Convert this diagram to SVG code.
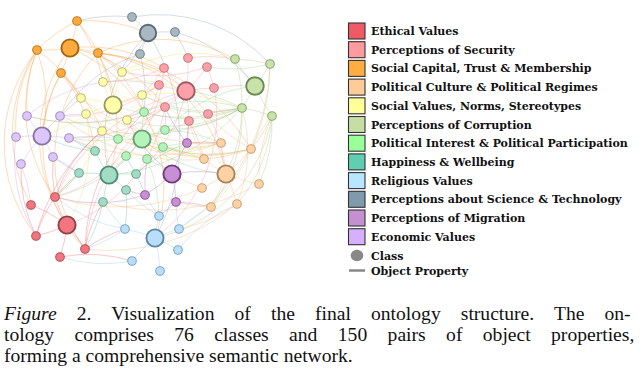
<svg xmlns="http://www.w3.org/2000/svg" width="641" height="389" viewBox="0 0 641 389">
<style>
.ed path{fill:none;stroke-width:1;stroke-opacity:.36}
.ce{stroke:#f0606a}.cs{stroke:#ff8f9a}.co{stroke:#ff9a3a}.cp{stroke:#f8b878}.cv{stroke:#e8e060}.ck{stroke:#a8c888}
.ci{stroke:#80e088}.ch{stroke:#60c0a0}.cr{stroke:#90c8f0}.ct{stroke:#8aa0b0}.cm{stroke:#b070c0}.cn{stroke:#c0a0f0}
.n circle{stroke-width:1.1}
.n .L{stroke-width:1.9}
.E circle{fill:#f27680;stroke:#b4525a}.S circle{fill:#ffa0a8;stroke:#c47a82}.C circle{fill:#ffaa3c;stroke:#c27c22}
.P circle{fill:#ffd2a4;stroke:#c8a27c}.V circle{fill:#ffffaa;stroke:#bcbc7c}.K circle{fill:#c8e2aa;stroke:#8aa870}
.I circle{fill:#b2f4ba;stroke:#82bc8a}.H circle{fill:#a2dcc6;stroke:#6ea690}.R circle{fill:#b8defa;stroke:#7ea6c6}
.T circle{fill:#a8b8c2;stroke:#748690}.M circle{fill:#c88ed6;stroke:#8e5a9a}.N circle{fill:#dcc6fa;stroke:#a690c4}
.E .L{stroke:#904048}.S .L{stroke:#985c64}.K .L{stroke:#6c8a54}.V .L{stroke:#9a9a60}.I .L{stroke:#6a9c72}.H .L{stroke:#4e8a74}
.R .L{stroke:#5e86a6}.T .L{stroke:#5a6a74}.M .L{stroke:#6e3c7a}.N .L{stroke:#8a72a8}.P .L{stroke:#a8825c}.C .L{stroke:#a26410}
.lg rect{stroke:#333;stroke-width:1.1}
.lg text{font-family:"DejaVu Serif",serif;font-weight:bold;font-size:11px;fill:#111}
.cap{font-family:"Liberation Serif","Times New Roman",serif;font-size:19.6px;fill:#111}
</style>
<rect width="641" height="389" fill="#fff"/>
<g id="connectors" class="ed">
<g class="co">
<path d="M77 21A150 150 0 0 1 70 48"/><path d="M77 21A150 150 0 0 1 98 53"/><path d="M37 50A150 150 0 0 1 77 21"/>
<path d="M70 48A150 150 0 0 1 37 50"/><path d="M70 48A150 150 0 0 1 98 53"/><path d="M70 48A150 150 0 0 1 61 73"/>
<path d="M27 116A150 150 0 0 1 37 50"/><path d="M16 137A150 150 0 0 1 37 50"/><path d="M31 205A150 150 0 0 1 37 50"/>
<path d="M36 236A150 150 0 0 1 37 50"/><path d="M37 50A150 150 0 0 1 81 98"/><path d="M98 53A150 150 0 0 1 122 72"/>
<path d="M98 53A150 150 0 0 1 113 105"/><path d="M98 53A150 150 0 0 1 186 91"/><path d="M98 53A150 150 0 0 1 144 112"/>
<path d="M98 53A150 150 0 0 1 109 175"/><path d="M85 249A150 150 0 0 1 98 53"/><path d="M61 73A150 150 0 0 1 81 98"/>
<path d="M42 136A150 150 0 0 1 61 73"/><path d="M70 48A150 150 0 0 1 164 68"/><path d="M77 21A150 150 0 0 1 148 33"/>
<path d="M67 225A150 150 0 0 1 70 48"/><path d="M61 73A150 150 0 0 1 95 151"/><path d="M98 53A150 150 0 0 1 226 174"/>
<path d="M77 21A150 150 0 0 1 103 82"/><path d="M55 197A150 150 0 0 1 37 50"/><path d="M70 48A150 150 0 0 1 165 107"/>
<path d="M37 50A150 150 0 0 1 42 136"/><path d="M98 53A150 150 0 0 1 235 59"/><path d="M70 48A150 150 0 0 1 155 238"/>
<path d="M85 249A150 150 0 0 1 61 73"/><path d="M98 53A200 200 0 0 1 251 149"/><path d="M61 73A150 150 0 0 1 102 131"/>
</g>
<g class="ct">
<path d="M132 17A150 150 0 0 1 148 33"/><path d="M148 33A150 150 0 0 1 175 32"/><path d="M148 33A150 150 0 0 1 140 54"/>
<path d="M77 21A150 150 0 0 1 132 17"/><path d="M148 33A150 150 0 0 1 122 72"/><path d="M175 32A150 150 0 0 1 188 58"/>
<path d="M148 33A200 200 0 0 1 155 238"/><path d="M140 54A150 150 0 0 1 144 112"/><path d="M132 17A150 150 0 0 1 270 64"/>
<path d="M175 32A150 150 0 0 1 255 86"/><path d="M109 175A150 150 0 0 1 148 33"/><path d="M60 116A150 150 0 0 1 140 54"/>
</g>
<g class="cs">
<path d="M186 91A150 150 0 0 1 164 68"/><path d="M188 58A150 150 0 0 1 186 91"/><path d="M207 67A150 150 0 0 1 186 91"/>
<path d="M186 91A150 150 0 0 1 159 85"/><path d="M186 91A150 150 0 0 1 214 88"/><path d="M186 91A150 150 0 0 1 165 107"/>
<path d="M186 91A150 150 0 0 1 208 114"/><path d="M186 91A150 150 0 0 1 189 121"/><path d="M207 67A150 150 0 0 1 214 88"/>
<path d="M164 68A150 150 0 0 1 142 95"/><path d="M159 85A150 150 0 0 1 113 105"/><path d="M165 107A150 150 0 0 1 165 130"/>
<path d="M165 107A150 150 0 0 1 127 120"/><path d="M189 121A150 150 0 0 1 187 143"/><path d="M208 114A150 150 0 0 1 242 108"/>
<path d="M214 88A150 150 0 0 1 255 86"/><path d="M159 85A150 150 0 0 1 60 116"/><path d="M165 107A150 150 0 0 1 67 225"/>
<path d="M164 68A150 150 0 0 1 109 175"/><path d="M189 121A150 150 0 0 1 204 159"/><path d="M188 58A150 150 0 0 1 235 59"/>
<path d="M208 114A150 150 0 0 1 226 174"/><path d="M165 107A150 150 0 0 1 69 138"/><path d="M159 85A150 150 0 0 1 55 197"/>
<path d="M186 91A150 150 0 0 1 136 174"/><path d="M207 67A150 150 0 0 1 122 72"/><path d="M189 121A150 150 0 0 1 142 139"/>
<path d="M186 91A200 200 0 0 1 27 116"/><path d="M214 88A150 150 0 0 1 155 238"/><path d="M85 249A200 200 0 0 1 165 107"/>
<path d="M55 197A200 200 0 0 1 186 91"/><path d="M164 68A150 150 0 0 1 103 82"/>
</g>
<g class="ck">
<path d="M255 86A150 150 0 0 1 235 59"/><path d="M270 64A150 150 0 0 1 255 86"/><path d="M255 86A150 150 0 0 1 242 108"/>
<path d="M272 116A150 150 0 0 1 255 86"/><path d="M235 59A150 150 0 0 1 270 64"/><path d="M242 108A150 150 0 0 1 272 116"/>
<path d="M242 108A150 150 0 0 1 165 107"/><path d="M242 108A150 150 0 0 1 142 95"/><path d="M242 108A150 150 0 0 1 165 130"/>
<path d="M242 108A150 150 0 0 1 226 174"/><path d="M272 116A150 150 0 0 1 251 149"/><path d="M272 116A150 150 0 0 1 155 238"/>
<path d="M270 64A150 150 0 0 1 207 67"/><path d="M242 108A150 150 0 0 1 127 120"/><path d="M242 108A200 200 0 0 1 60 116"/>
<path d="M272 116A150 150 0 0 1 259 184"/><path d="M242 108A150 150 0 0 1 144 112"/><path d="M242 108A200 200 0 0 1 113 105"/>
<path d="M242 108A200 200 0 0 1 109 175"/><path d="M242 108A150 150 0 0 1 211 207"/><path d="M272 116A150 150 0 0 1 237 204"/>
<path d="M242 108A150 150 0 0 0 186 91"/><path d="M270 64A200 200 0 0 1 179 229"/><path d="M235 59A150 150 0 0 1 242 108"/>
</g>
<g class="cv">
<path d="M113 105A150 150 0 0 1 122 72"/><path d="M113 105A150 150 0 0 1 103 82"/><path d="M81 98A150 150 0 0 1 113 105"/>
<path d="M113 105A150 150 0 0 1 142 95"/><path d="M86 114A150 150 0 0 1 113 105"/><path d="M113 105A150 150 0 0 1 127 120"/>
<path d="M113 105A150 150 0 0 1 102 131"/><path d="M122 72A150 150 0 0 1 164 68"/><path d="M142 95A150 150 0 0 1 159 85"/>
<path d="M127 120A150 150 0 0 1 142 139"/><path d="M102 131A150 150 0 0 1 109 175"/><path d="M86 114A150 150 0 0 1 42 136"/>
<path d="M102 131A150 150 0 0 0 221 143"/><path d="M142 95A150 150 0 0 1 226 174"/><path d="M81 98A150 150 0 0 1 60 116"/>
<path d="M103 82A150 150 0 0 1 186 91"/><path d="M122 72A150 150 0 0 1 235 59"/><path d="M102 131A150 150 0 0 1 55 197"/>
<path d="M86 114A150 150 0 0 1 67 225"/><path d="M81 98A200 200 0 0 0 204 159"/><path d="M103 82A150 150 0 0 1 172 174"/>
<path d="M142 95A200 200 0 0 1 242 108"/>
</g>
<g class="ci">
<path d="M142 139A150 150 0 0 1 144 112"/><path d="M142 139A150 150 0 0 1 118 139"/><path d="M142 139A150 150 0 0 1 165 130"/>
<path d="M142 139A150 150 0 0 1 163 147"/><path d="M142 139A150 150 0 0 1 126 156"/><path d="M142 139A150 150 0 0 1 147 159"/>
<path d="M144 112A150 150 0 0 1 142 95"/><path d="M163 147A150 150 0 0 1 187 143"/><path d="M126 156A150 150 0 0 1 109 175"/>
<path d="M147 159A150 150 0 0 1 172 174"/><path d="M118 139A150 150 0 0 1 69 138"/><path d="M165 130A150 150 0 0 1 221 143"/>
<path d="M142 139A150 150 0 0 0 226 174"/><path d="M163 147A150 150 0 0 1 204 159"/><path d="M118 139A150 150 0 0 1 102 131"/>
<path d="M165 130A150 150 0 0 1 255 86"/><path d="M144 112A200 200 0 0 1 27 116"/><path d="M142 139A150 150 0 0 1 55 197"/>
<path d="M163 147A150 150 0 0 0 251 149"/><path d="M147 159A150 150 0 0 1 159 216"/><path d="M144 112A150 150 0 0 1 242 108"/>
</g>
<g class="ch">
<path d="M109 175A150 150 0 0 1 95 151"/><path d="M79 173A150 150 0 0 1 109 175"/><path d="M109 175A150 150 0 0 1 136 174"/>
<path d="M109 175A150 150 0 0 1 126 190"/><path d="M103 202A150 150 0 0 1 109 175"/><path d="M136 174A150 150 0 0 1 126 156"/>
<path d="M95 151A150 150 0 0 1 69 138"/><path d="M79 173A150 150 0 0 1 53 157"/><path d="M126 190A150 150 0 0 1 125 229"/>
<path d="M103 202A150 150 0 0 1 85 249"/><path d="M136 174A150 150 0 0 1 145 195"/><path d="M79 173A150 150 0 0 1 55 197"/>
<path d="M136 174A150 150 0 0 1 187 143"/><path d="M95 151A150 150 0 0 1 42 136"/>
</g>
<g class="cr">
<path d="M155 238A150 150 0 0 1 159 216"/><path d="M125 229A150 150 0 0 1 155 238"/><path d="M155 238A150 150 0 0 1 179 229"/>
<path d="M155 238A150 150 0 0 1 178 250"/><path d="M132 261A150 150 0 0 1 155 238"/><path d="M155 238A150 150 0 0 1 160 271"/>
<path d="M159 216A150 150 0 0 1 145 195"/><path d="M125 229A150 150 0 0 1 85 249"/><path d="M179 229A150 150 0 0 1 176 202"/>
<path d="M159 216A150 150 0 0 1 126 190"/><path d="M125 229A150 150 0 0 1 103 202"/><path d="M179 229A150 150 0 0 1 211 207"/>
<path d="M132 261A150 150 0 0 1 60 257"/><path d="M125 229A150 150 0 0 1 55 197"/><path d="M178 250A150 150 0 0 1 237 204"/>
</g>
<g class="cm">
<path d="M172 174A150 150 0 0 1 187 143"/><path d="M172 174A150 150 0 0 1 145 195"/><path d="M172 174A150 150 0 0 1 176 202"/>
<path d="M187 143A150 150 0 0 1 221 143"/><path d="M172 174A150 150 0 0 1 226 174"/><path d="M145 195A150 150 0 0 1 126 190"/>
<path d="M176 202A150 150 0 0 1 211 207"/><path d="M187 143A150 150 0 0 1 189 121"/><path d="M145 195A150 150 0 0 1 147 159"/>
<path d="M172 174A150 150 0 0 1 127 120"/><path d="M176 202A150 150 0 0 1 159 216"/><path d="M187 143A150 150 0 0 1 165 107"/>
<path d="M145 195A150 150 0 0 1 55 197"/>
</g>
<g class="cn">
<path d="M42 136A150 150 0 0 1 27 116"/><path d="M42 136A150 150 0 0 1 60 116"/><path d="M16 137A150 150 0 0 1 42 136"/>
<path d="M42 136A150 150 0 0 1 69 138"/><path d="M42 136A150 150 0 0 1 53 157"/><path d="M21 164A150 150 0 0 1 42 136"/>
<path d="M60 116A150 150 0 0 1 81 98"/><path d="M69 138A150 150 0 0 1 95 151"/><path d="M53 157A150 150 0 0 1 79 173"/>
<path d="M21 164A150 150 0 0 1 31 205"/><path d="M60 116A150 150 0 0 1 86 114"/><path d="M27 116A150 150 0 0 1 159 85"/>
<path d="M69 138A150 150 0 0 1 118 139"/><path d="M36 236A150 150 0 0 1 16 137"/>
</g>
<g class="ce">
<path d="M67 225A150 150 0 0 1 55 197"/><path d="M31 205A150 150 0 0 1 67 225"/><path d="M67 225A150 150 0 0 1 36 236"/>
<path d="M67 225A150 150 0 0 1 60 257"/><path d="M67 225A150 150 0 0 1 85 249"/><path d="M55 197A150 150 0 0 1 79 173"/>
<path d="M85 249A150 150 0 0 1 125 229"/><path d="M36 236A150 150 0 0 1 21 164"/><path d="M55 197A150 150 0 0 1 102 131"/>
<path d="M85 249A150 150 0 0 1 103 202"/><path d="M60 257A150 150 0 0 1 132 261"/><path d="M55 197A150 150 0 0 1 53 157"/>
<path d="M36 236A150 150 0 0 1 55 197"/><path d="M85 249A200 200 0 0 1 144 112"/><path d="M36 236A200 200 0 0 1 102 131"/>
</g>
<g class="cp">
<path d="M226 174A150 150 0 0 1 221 143"/><path d="M251 149A150 150 0 0 1 226 174"/><path d="M226 174A150 150 0 0 1 204 159"/>
<path d="M226 174A150 150 0 0 1 202 188"/><path d="M259 184A150 150 0 0 1 226 174"/><path d="M226 174A150 150 0 0 1 237 204"/>
<path d="M226 174A150 150 0 0 1 211 207"/><path d="M221 143A150 150 0 0 1 187 143"/><path d="M204 159A150 150 0 0 1 189 121"/>
<path d="M251 149A150 150 0 0 1 272 116"/><path d="M259 184A150 150 0 0 1 272 116"/><path d="M237 204A150 150 0 0 1 179 229"/>
<path d="M211 207A150 150 0 0 1 176 202"/><path d="M202 188A150 150 0 0 1 172 174"/><path d="M251 149A150 150 0 0 1 208 114"/>
<path d="M221 143A150 150 0 0 1 163 147"/><path d="M204 159A150 150 0 0 1 127 120"/><path d="M237 204A200 200 0 0 1 85 249"/>
<path d="M251 149A200 200 0 0 1 60 116"/><path d="M251 149A200 200 0 0 1 102 131"/><path d="M221 143A200 200 0 0 1 81 98"/>
<path d="M259 184A200 200 0 0 1 103 202"/><path d="M237 204A150 150 0 0 0 242 108"/><path d="M211 207A200 200 0 0 0 270 64"/>
<path d="M251 149A200 200 0 0 1 86 114"/><path d="M221 143A200 200 0 0 1 69 138"/><path d="M202 188A200 200 0 0 1 55 197"/>
</g>
</g>
<g class="n">
<g class="E"><g id="e1"><circle cx="55" cy="197" r="4.3"/></g><g id="e2"><circle cx="31" cy="205" r="4.3"/></g><g id="e3"><circle class="L" cx="67" cy="225" r="8.6"/></g><g id="e4"><circle cx="36" cy="236" r="4.3"/></g><g id="e5"><circle cx="60" cy="257" r="4.3"/></g><g id="e6"><circle cx="85" cy="249" r="4.3"/></g></g>
<g class="S"><g id="s1"><circle cx="164" cy="68" r="4.3"/></g><g id="s2"><circle cx="188" cy="58" r="4.3"/></g><g id="s3"><circle cx="207" cy="67" r="4.3"/></g><g id="s4"><circle cx="159" cy="85" r="4.3"/></g><g id="s5"><circle class="L" cx="186" cy="91" r="8.7"/></g><g id="s6"><circle cx="214" cy="88" r="4.3"/></g><g id="s7"><circle cx="165" cy="107" r="4.3"/></g><g id="s8"><circle cx="208" cy="114" r="4.3"/></g><g id="s9"><circle cx="189" cy="121" r="4.3"/></g></g>
<g class="C"><g id="c1"><circle cx="77" cy="21" r="4.3"/></g><g id="c2"><circle class="L" cx="70" cy="48" r="8.6"/></g><g id="c3"><circle cx="37" cy="50" r="4.3"/></g><g id="c4"><circle cx="98" cy="53" r="4.3"/></g><g id="c5"><circle cx="61" cy="73" r="4.3"/></g></g>
<g class="P"><g id="p1"><circle cx="221" cy="143" r="4.3"/></g><g id="p2"><circle cx="251" cy="149" r="4.3"/></g><g id="p3"><circle cx="204" cy="159" r="4.3"/></g><g id="p4"><circle class="L" cx="226" cy="174" r="8.6"/></g><g id="p5"><circle cx="202" cy="188" r="4.3"/></g><g id="p6"><circle cx="259" cy="184" r="4.3"/></g><g id="p7"><circle cx="237" cy="204" r="4.3"/></g><g id="p8"><circle cx="211" cy="207" r="4.3"/></g></g>
<g class="V"><g id="v1"><circle cx="122" cy="72" r="4.3"/></g><g id="v2"><circle cx="103" cy="82" r="4.3"/></g><g id="v3"><circle cx="81" cy="98" r="4.3"/></g><g id="v4"><circle class="L" cx="113" cy="105" r="8.6"/></g><g id="v5"><circle cx="142" cy="95" r="4.3"/></g><g id="v6"><circle cx="86" cy="114" r="4.3"/></g><g id="v7"><circle cx="127" cy="120" r="4.3"/></g><g id="v8"><circle cx="102" cy="131" r="4.3"/></g></g>
<g class="K"><g id="k1"><circle cx="235" cy="59" r="4.3"/></g><g id="k2"><circle cx="270" cy="64" r="4.3"/></g><g id="k3"><circle class="L" cx="255" cy="86" r="8.8"/></g><g id="k4"><circle cx="242" cy="108" r="4.3"/></g><g id="k5"><circle cx="272" cy="116" r="4.3"/></g></g>
<g class="I"><g id="i1"><circle cx="144" cy="112" r="4.3"/></g><g id="i2"><circle cx="118" cy="139" r="4.3"/></g><g id="i3"><circle class="L" cx="142" cy="139" r="8.6"/></g><g id="i4"><circle cx="165" cy="130" r="4.3"/></g><g id="i5"><circle cx="163" cy="147" r="4.3"/></g><g id="i6"><circle cx="126" cy="156" r="4.3"/></g><g id="i7"><circle cx="147" cy="159" r="4.3"/></g></g>
<g class="H"><g id="h1"><circle cx="95" cy="151" r="4.3"/></g><g id="h2"><circle cx="79" cy="173" r="4.3"/></g><g id="h3"><circle class="L" cx="109" cy="175" r="8.6"/></g><g id="h4"><circle cx="136" cy="174" r="4.3"/></g><g id="h5"><circle cx="126" cy="190" r="4.3"/></g><g id="h6"><circle cx="103" cy="202" r="4.3"/></g></g>
<g class="R"><g id="r1"><circle cx="159" cy="216" r="4.3"/></g><g id="r2"><circle cx="125" cy="229" r="4.3"/></g><g id="r3"><circle class="L" cx="155" cy="238" r="8.6"/></g><g id="r4"><circle cx="179" cy="229" r="4.3"/></g><g id="r5"><circle cx="178" cy="250" r="4.3"/></g><g id="r6"><circle cx="132" cy="261" r="4.3"/></g><g id="r7"><circle cx="160" cy="271" r="4.3"/></g></g>
<g class="T"><g id="t1"><circle cx="132" cy="17" r="4.3"/></g><g id="t2"><circle class="L" cx="148" cy="33" r="8.2"/></g><g id="t3"><circle cx="175" cy="32" r="4.3"/></g><g id="t4"><circle cx="140" cy="54" r="4.3"/></g></g>
<g class="M"><g id="m1"><circle cx="187" cy="143" r="4.3"/></g><g id="m2"><circle class="L" cx="172" cy="174" r="8.6"/></g><g id="m3"><circle cx="145" cy="195" r="4.3"/></g><g id="m4"><circle cx="176" cy="202" r="4.3"/></g></g>
<g class="N"><g id="n1"><circle cx="27" cy="116" r="4.3"/></g><g id="n2"><circle cx="60" cy="116" r="4.3"/></g><g id="n3"><circle class="L" cx="42" cy="136" r="8.6"/></g><g id="n4"><circle cx="16" cy="137" r="4.3"/></g><g id="n5"><circle cx="69" cy="138" r="4.3"/></g><g id="n6"><circle cx="53" cy="157" r="4.3"/></g><g id="n7"><circle cx="21" cy="164" r="4.3"/></g></g>
</g>
<g id="legend" class="lg">
<rect x="348.5" y="23" width="16.5" height="16" fill="#f05a64"/><text x="371" y="35">Ethical Values</text>
<rect x="348.5" y="41.7" width="16.5" height="16" fill="#ff9a9e"/><text x="371" y="53.7">Perceptions of Security</text>
<rect x="348.5" y="60.4" width="16.5" height="16" fill="#ffad42"/><text x="371" y="72.4">Social Capital, Trust &amp; Membership</text>
<rect x="348.5" y="79.1" width="16.5" height="16" fill="#ffcc99"/><text x="371" y="91.1">Political Culture &amp; Political Regimes</text>
<rect x="348.5" y="97.8" width="16.5" height="16" fill="#ffff99"/><text x="371" y="109.8">Social Values, Norms, Stereotypes</text>
<rect x="348.5" y="116.5" width="16.5" height="16" fill="#c6dea6"/><text x="371" y="128.5">Perceptions of Corruption</text>
<rect x="348.5" y="135.2" width="16.5" height="16" fill="#99ff99"/><text x="371" y="147.2">Political Interest &amp; Political Participation</text>
<rect x="348.5" y="153.9" width="16.5" height="16" fill="#5fcfb0"/><text x="371" y="165.9">Happiness &amp; Wellbeing</text>
<rect x="348.5" y="172.6" width="16.5" height="16" fill="#b8e6ff"/><text x="371" y="184.6">Religious Values</text>
<rect x="348.5" y="191.3" width="16.5" height="16" fill="#7f9aab"/><text x="371" y="203.3">Perceptions about Science &amp; Technology</text>
<rect x="348.5" y="210" width="16.5" height="16" fill="#c391d1"/><text x="371" y="222">Perceptions of Migration</text>
<rect x="348.5" y="228.7" width="16.5" height="16" fill="#d4b0ff"/><text x="371" y="240.7">Economic Values</text>
<ellipse cx="357" cy="255.5" rx="6.3" ry="5.8" fill="#888"/><text x="371" y="259.5">Class</text>
<line x1="349" y1="270.5" x2="365" y2="270.5" stroke="#888" stroke-width="2.5"/><text x="371" y="274.5">Object Property</text>
</g>
<g id="caption" class="cap">
<text x="4" y="320" word-spacing="15.2"><tspan font-style="italic">Figure</tspan> 2. Visualization of the final ontology structure. The on-</text>
<text x="4" y="341" word-spacing="15.5">tology comprises 76 classes and 150 pairs of object properties,</text>
<text x="4" y="362">forming a comprehensive semantic network.</text>
</g>
</svg>
